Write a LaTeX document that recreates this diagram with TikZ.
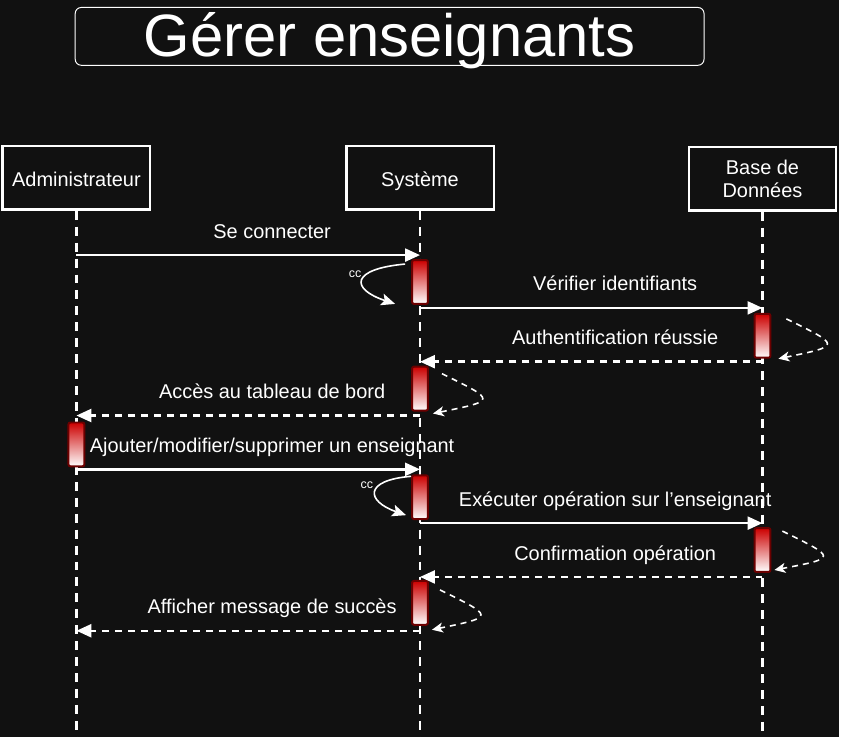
\documentclass[tikz,border=0pt]{standalone}
\usepackage{fontspec}
\setmainfont{Liberation Sans}
\usepackage{tikz}
\usetikzlibrary{arrows.meta}
\usepackage{xcolor}
\definecolor{seqbg}{RGB}{17,17,17}
\definecolor{seqred}{RGB}{204,0,0}
\definecolor{seqdarkred}{RGB}{108,0,0}
\tikzstyle{lifebox} = [rectangle, minimum width=148pt, minimum height=63.5pt, draw=white, line width=2.5pt, fill=seqbg, text=white, align=center, font=\fontsize{20}{24}\selectfont]
\tikzstyle{activation} = [rectangle, rounded corners=2pt, minimum width=16pt, minimum height=44pt, inner sep=0pt, draw=seqdarkred, line width=2pt, top color=seqred, bottom color=white]
\tikzstyle{lifeline} = [white, line width=2.5pt, dash pattern=on 9pt off 7pt]
\tikzstyle{message} = [white, line width=2.5pt, -{Triangle[length=15pt,width=13pt]}]
\tikzstyle{reply} = [message, dash pattern=on 7pt off 6pt]
\tikzstyle{selfcall} = [white, line width=1.6pt, -{Stealth[length=14pt,width=12pt,inset=3pt]}]
\tikzstyle{selfloop} = [white, line width=1.6pt, dash pattern=on 6pt off 5pt, -{Stealth[length=11pt,width=10pt,inset=3pt]}]
\tikzstyle{msglabel} = [midway, anchor=base, xshift=24pt, yshift=17pt, text=white, font=\fontsize{20}{24}\selectfont]
\tikzstyle{cclabel} = [pos=0.35, left=5pt, inner sep=0pt, text=white, font=\fontsize{12.5}{14}\selectfont]

\begin{document}
\begin{tikzpicture}[x=1pt, y=-1pt]
% fond
\fill[seqbg] (0,0) rectangle (842,740);

% titre
\node (titre) [draw=white, line width=1pt, rounded corners=6pt, minimum width=631pt, minimum height=58pt, text height=40pt, text depth=0pt, text=white, font=\fontsize{60}{72}\selectfont] at (391,36.5) {Gérer enseignants};

% participants
\node (adm) [lifebox, text height=17pt, text depth=0pt] at (76.7,178.5) {Administrateur};
\node (sys) [lifebox, text height=17pt, text depth=0pt] at (421.5,178.5) {Système};
\node (bdd) [lifebox, yshift=-1pt] at (765.2,178.5) {Base de\\Données};

% lignes de vie
\coordinate (bas) at (0,740);
\draw[lifeline] (adm.south) -- (adm.south |- bas);
\draw[lifeline] (sys.south) -- (sys.south |- bas);
\draw[lifeline] (bdd.south) -- (bdd.south |- bas);

% niveaux des messages
\coordinate (m1) at (0,256);
\coordinate (m2) at (0,309);
\coordinate (m3) at (0,363);
\coordinate (m4) at (0,417);
\coordinate (m5) at (0,471);
\coordinate (m6) at (0,525);
\coordinate (m7) at (0,579);
\coordinate (m8) at (0,633);

% activations
\node (s1) [activation] at (421.5,283) {};
\node (b1) [activation] at (765.2,337) {};
\node (s2) [activation] at (421.5,390) {};
\node (a1) [activation] at (76.7,446) {};
\node (s3) [activation] at (421.5,499) {};
\node (b2) [activation] at (765.2,552) {};
\node (s4) [activation] at (421.5,605) {};

% messages
\draw[message] (adm |- m1) -- node[msglabel] {Se connecter} (sys |- m1);
\draw[message] (sys |- m2) -- node[msglabel] {Vérifier identifiants} (bdd |- m2);
\draw[reply] (bdd |- m3) -- node[msglabel] {Authentification réussie} (sys |- m3);
\draw[reply] (sys |- m4) -- node[msglabel] {Accès au tableau de bord} (adm |- m4);
\draw[message] (adm |- m5) -- node[msglabel] {Ajouter/modifier/supprimer un enseignant} (sys |- m5);
\draw[message] (sys |- m6) -- node[msglabel] {Exécuter opération sur l’enseignant} (bdd |- m6);
\draw[reply] (bdd |- m7) -- node[msglabel] {Confirmation opération} (sys |- m7);
\draw[reply] (sys |- m8) -- node[msglabel] {Afficher message de succès} (adm |- m8);

% appels internes
\draw[selfcall] ([shift={(-15,5)}]s1.north) .. controls +(-55,5) and +(-45,-15) .. node[cclabel] {cc} ([shift={(-25,45)}]s1.north);
\draw[selfcall] ([shift={(-9,2)}]s3.north) .. controls +(-48,4) and +(-40,-14) .. node[cclabel] {cc} ([shift={(-14,41)}]s3.north);

% retours internes
\draw[selfloop] ([shift={(24,6)}]b1.north) .. controls +(55,27) .. ([shift={(16,46)}]b1.north);
\draw[selfloop] ([shift={(22,8)}]s2.north) .. controls +(55,27) .. ([shift={(13,48)}]s2.north);
\draw[selfloop] ([shift={(20,4)}]b2.north) .. controls +(55,27) .. ([shift={(12,43)}]b2.north);
\draw[selfloop] ([shift={(20,10)}]s4.north) .. controls +(55,27) .. ([shift={(12,50)}]s4.north);
\end{tikzpicture}
\end{document}
